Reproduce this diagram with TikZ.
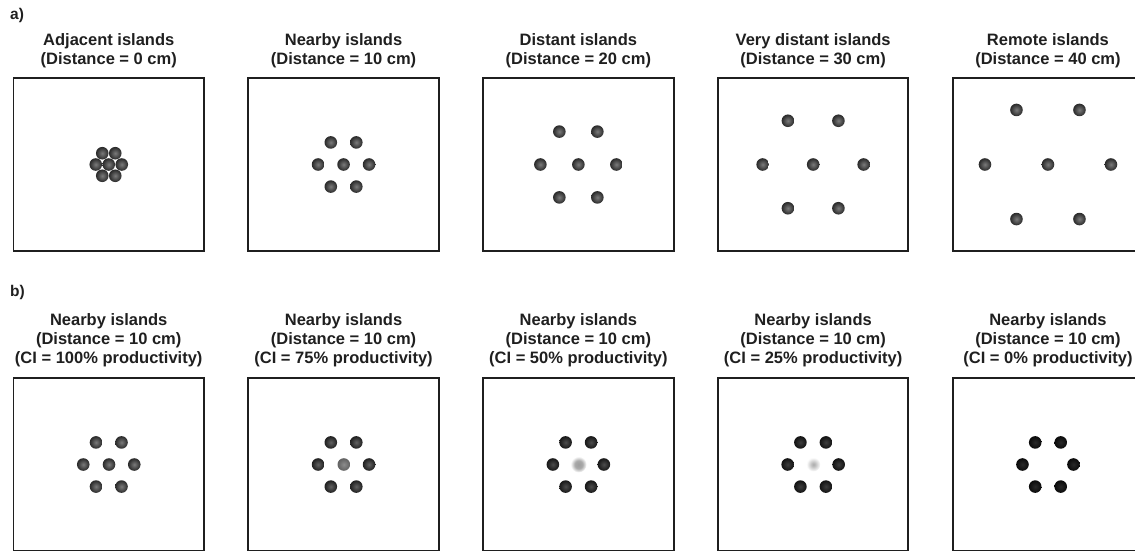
\documentclass[tikz,border=0pt]{standalone}
\usepackage{fontspec}
\setmainfont{Liberation Sans}

% soft-edged centre islands (faded productivity)
\pgfdeclareradialshading{softmid}{\pgfpoint{0bp}{0bp}}{color(0bp)=(black!38); color(12bp)=(black!34); color(25bp)=(white); color(50bp)=(white)}
\pgfdeclareradialshading{faintmid}{\pgfpoint{0bp}{0bp}}{color(0bp)=(black!32); color(6bp)=(black!27); color(25bp)=(white); color(50bp)=(white)}

\tikzset{
  panel/.style={draw=black!88, line width=1.9pt},
  % multi-line titles are anchored at the baseline of their last line
  title/.style={font=\bfseries\fontsize{16.5}{19}\selectfont, align=center, anchor=base, inner sep=0pt, text=black!88},
  tag/.style={font=\bfseries\fontsize{15.5}{18}\selectfont, anchor=base west, inner sep=0pt, text=black!88},
  isle/.style={circle, inner sep=0pt, minimum size=12.6pt, shading=radial},
  isleA/.style={isle, inner color=black!52, outer color=black!84},
  isleB/.style={isle, inner color=black!62, outer color=black!88},
  isleC/.style={isle, inner color=black!70, outer color=black!91},
  isleD/.style={isle, inner color=black!76, outer color=black!93},
  isleE/.style={isle, inner color=black!84, outer color=black!96},
  midB/.style={isle, inner color=black!45, outer color=black!62},
  midC/.style={circle, inner sep=0pt, minimum size=16pt, shading=softmid},
  midD/.style={circle, inner sep=0pt, minimum size=14pt, shading=faintmid},
}

% six islands on a hexagon: prefix, centre x, centre y, spacing, style
\newcommand\hexring[5]{%
  \foreach \ang [count=\k] in {60,120,180,240,300,0}
    \node[#5] (#1-\k) at ({#2+#4*cos(\ang)},{#3+#4*sin(\ang)}) {};
}

\begin{document}
\begin{tikzpicture}[x=1pt,y=-1pt]
\useasboundingbox (0,0) rectangle (1135,551);

\node[tag] (taga) at (10,20) {a)};
\node[tag] (tagb) at (10,296) {b)};

% row a: increasing distance between islands
\foreach \i/\t/\d in {0/{Adjacent islands\\(Distance = 0 cm)}/13,
                      1/{Nearby islands\\(Distance = 10 cm)}/25.5,
                      2/{Distant islands\\(Distance = 20 cm)}/38,
                      3/{Very distant islands\\(Distance = 30 cm)}/50.5,
                      4/{Remote islands\\(Distance = 40 cm)}/63} {
  \pgfmathsetmacro\xl{13.5+234.8*\i}
  \pgfmathsetmacro\xc{\xl+95.25}
  \draw[panel] (\xl,78) rectangle ++(190.5,173);
  \node[title] (ta\i) at (\xc,64) {\t};
  \hexring{a\i}{\xc}{164.5}{\d}{isleA}
  \node[isleA] (a\i-c) at (\xc,164.5) {};
}

% row b: decreasing productivity of the central island
\foreach \i/\p/\s in {0/100/isleA, 1/75/isleB, 2/50/isleC, 3/25/isleD, 4/0/isleE} {
  \pgfmathsetmacro\xl{13.5+234.8*\i}
  \pgfmathsetmacro\xc{\xl+95.25}
  \draw[panel] (\xl,378) rectangle ++(190.5,173);
  \node[title] (tb\i) at (\xc,363) {Nearby islands\\(Distance = 10 cm)\\(CI = \p\% productivity)};
  \hexring{b\i}{\xc}{464.5}{25.5}{\s}
}
\node[isleA] (b0-c) at (109,464.5) {};
\node[midB] (b1-c) at (343.8,464.5) {};
\node[midC] (b2-c) at (578.6,464.5) {};
\node[midD] (b3-c) at (813.4,464.5) {};
\end{tikzpicture}
\end{document}
